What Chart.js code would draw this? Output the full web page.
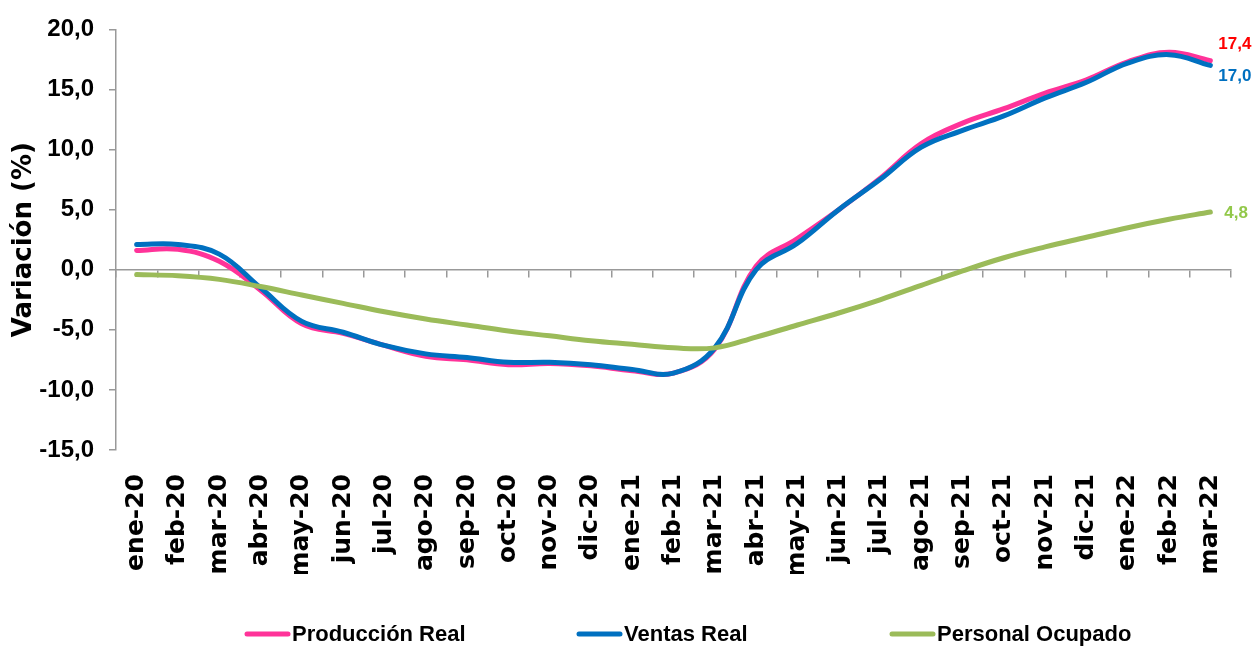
<!DOCTYPE html>
<html>
<head>
<meta charset="utf-8">
<script src="https://cdn.jsdelivr.net/npm/chart.js@4"></script>
<style>
  html, body { margin: 0; padding: 0; background: #fff; }
  #wrap { width: 1255px; height: 650px; }
</style>
</head>
<body>
<div id="wrap"><canvas id="chart" width="1255" height="650"></canvas></div>
<script>
const meses = ['ene-20', 'feb-20', 'mar-20', 'abr-20', 'may-20', 'jun-20', 'jul-20', 'ago-20', 'sep-20', 'oct-20', 'nov-20', 'dic-20',
    'ene-21', 'feb-21', 'mar-21', 'abr-21', 'may-21', 'jun-21', 'jul-21', 'ago-21', 'sep-21', 'oct-21', 'nov-21', 'dic-21',
    'ene-22', 'feb-22', 'mar-22'];

const produccion = [1.6, 1.7, 0.7, -1.7, -4.5, -5.3, -6.3, -7.2, -7.5, -7.9, -7.8, -8.0,
    -8.4, -8.6, -6.6, 0.3, 2.6, 5.0, 7.6, 10.5, 12.2, 13.4, 14.7, 15.8, 17.3, 18.1, 17.4];
const ventas = [2.1, 2.1, 1.3, -1.5, -4.3, -5.2, -6.3, -7.0, -7.3, -7.7, -7.7, -7.9,
    -8.3, -8.6, -6.5, 0.0, 2.2, 5.0, 7.5, 10.2, 11.6, 12.8, 14.3, 15.6, 17.2, 17.9, 17.0];
const personal = [-0.4, -0.5, -0.8, -1.4, -2.1, -2.8, -3.5, -4.1, -4.6, -5.1, -5.5, -5.9,
    -6.2, -6.5, -6.5, -5.6, -4.6, -3.6, -2.5, -1.3, -0.1, 1.0, 1.9, 2.7, 3.5, 4.2, 4.8];

const yTicks = [-15, -10, -5, 0, 5, 10, 15, 20];

const coma = v => v.toFixed(1).replace('.', ',');
const arial = "'Liberation Sans', Arial, sans-serif";
const verdana = "'DejaVu Sans', Verdana, sans-serif";

// etiquetas con el último valor de cada serie
const endLabels = {
    id: 'endLabels',
    afterDatasetsDraw(chart) {
        const ctx = chart.ctx;
        const colores = ['#ff0000', '#0070c0', '#92c84a'];
        const dx = [8, 8, 14];
        const dy = [-16, 11, 1];
        chart.data.datasets.forEach((ds, i) => {
            const pts = chart.getDatasetMeta(i).data;
            const p = pts[pts.length - 1];
            ctx.save();
            ctx.font = "bold 17px " + arial;
            ctx.fillStyle = colores[i];
            ctx.textBaseline = 'middle';
            ctx.fillText(coma(ds.data[ds.data.length - 1]), p.x + dx[i], p.y + dy[i]);
            ctx.restore();
        });
    }
};

// leyenda abajo, dibujada a mano para separar los elementos como en el original
const leyenda = {
    id: 'leyenda',
    afterDraw(chart) {
        const ctx = chart.ctx;
        const xs = [245, 577, 890];
        const y = 634;
        ctx.save();
        ctx.font = "bold 22px " + arial;
        ctx.textBaseline = 'middle';
        chart.data.datasets.forEach((ds, i) => {
            ctx.strokeStyle = ds.borderColor;
            ctx.lineWidth = 5;
            ctx.lineCap = 'round';
            ctx.beginPath();
            ctx.moveTo(xs[i] + 2, y);
            ctx.lineTo(xs[i] + 43, y);
            ctx.stroke();
            ctx.fillStyle = '#000';
            ctx.fillText(ds.label, xs[i] + 47, y + 1);
        });
        ctx.restore();
    }
};

const ctx = document.querySelector('#chart').getContext('2d');

new Chart(ctx, {
    type: 'line',
    data: {
        labels: meses,
        datasets: [
            {
                label: 'Producción Real',
                data: produccion,
                borderColor: '#ff3399',
                backgroundColor: '#ff3399',
                borderWidth: 5,
                order: 3
            },
            {
                label: 'Ventas Real',
                data: ventas,
                borderColor: '#0070c0',
                backgroundColor: '#0070c0',
                borderWidth: 5,
                order: 2
            },
            {
                label: 'Personal Ocupado',
                data: personal,
                borderColor: '#9bbb59',
                backgroundColor: '#9bbb59',
                borderWidth: 5,
                order: 1
            }
        ]
    },
    options: {
        responsive: false,
        animation: false,
        events: [],
        layout: { padding: { top: 28, right: 24, left: 4, bottom: 76 } },
        elements: {
            point: { radius: 0 },
            line: { tension: 0.4, borderCapStyle: 'round' }
        },
        scales: {
            x: {
                type: 'category',
                position: { y: 0 },
                offset: true,
                ticks: { display: false },
                grid: { offset: true, drawOnChartArea: false, drawTicks: true, tickLength: 7, color: '#999', lineWidth: 1.5 },
                border: { color: '#999', width: 1.5 }
            },
            x2: {
                type: 'category',
                position: 'bottom',
                offset: true,
                grid: { display: false, drawTicks: false },
                border: { display: false },
                afterFit(scale) {
                    scale.height = 124;
                    scale.paddingLeft = 0;
                    scale.paddingRight = 0;
                },
                ticks: {
                    color: '#000',
                    minRotation: 90,
                    maxRotation: 90,
                    autoSkip: false,
                    padding: 24,
                    font: { family: verdana, weight: 'bold', size: 25 }
                }
            },
            y: {
                min: -15,
                max: 20,
                afterBuildTicks(scale) {
                    scale.ticks = yTicks.map(v => ({ value: v }));
                },
                afterFit(scale) { scale.width = 112; },
                grid: { drawOnChartArea: false, drawTicks: true, tickLength: 7, color: '#999', lineWidth: 1.5 },
                border: { color: '#999', width: 1.5 },
                ticks: {
                    color: '#000',
                    padding: 15,
                    callback: v => coma(v),
                    font: { family: arial, weight: 'bold', size: 24 }
                },
                title: {
                    display: true,
                    text: 'Variación (%)',
                    color: '#000',
                    padding: { top: 5, bottom: 1 },
                    font: { family: verdana, weight: 'bold', size: 26 }
                }
            }
        },
        plugins: {
            tooltip: { enabled: false },
            legend: { display: false }
        }
    },
    plugins: [endLabels, leyenda]
});
</script>
</body>
</html>
